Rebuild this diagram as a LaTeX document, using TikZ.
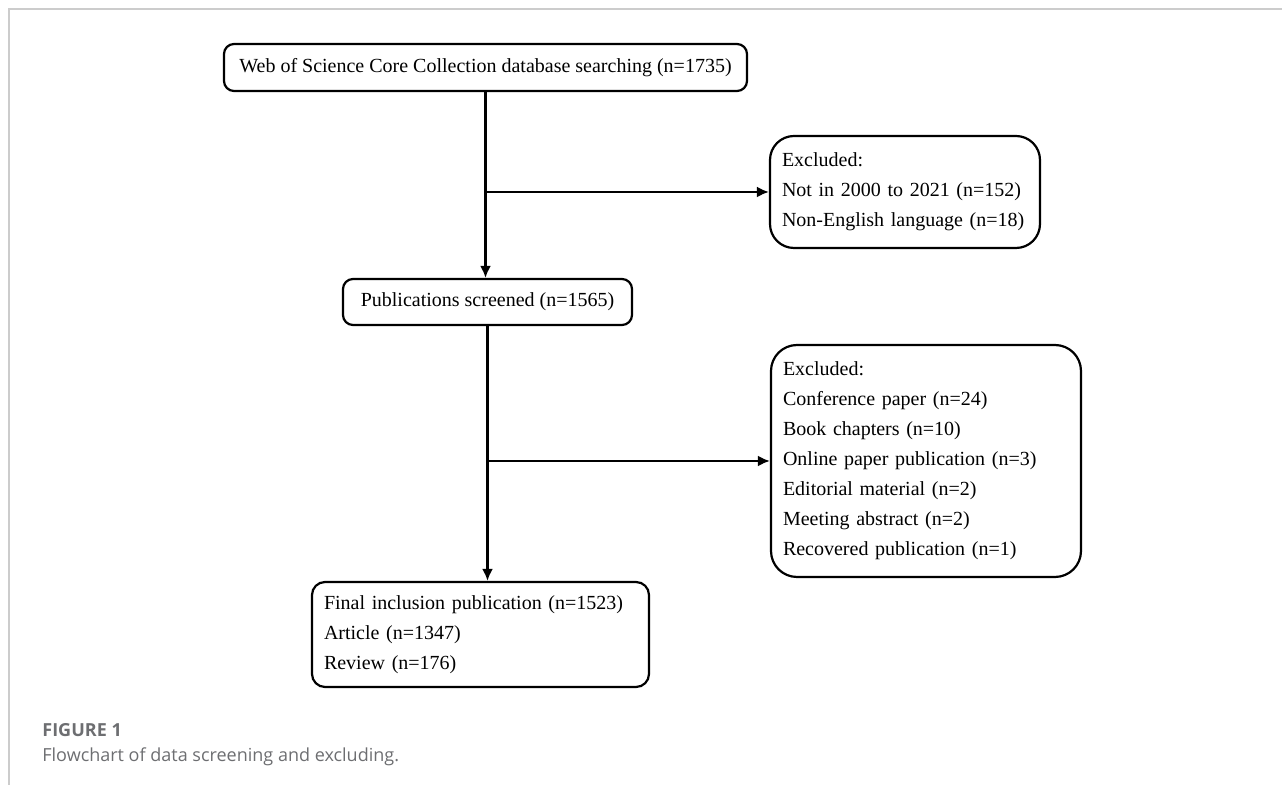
\documentclass[tikz,border=0pt]{standalone}
\usepackage{fontspec}
\setmainfont{Liberation Serif}
\newfontfamily\capfont{Open Sans}
\usepackage{tikz}
\usetikzlibrary{calc}
\usetikzlibrary{arrows.meta, positioning}
\definecolor{framegray}{HTML}{CCCCCC}
\definecolor{capgray}{HTML}{6D6E71}
\tikzset{flowbox/.style={draw=black, line width=1.1pt, rounded corners=#1, inner xsep=6pt, inner ysep=0pt, align=left, font=\fontsize{10}{15}\selectfont},
flowbox/.default={5pt},
flowarrow/.style={line width=1.1pt, -{Latex[length=6pt,width=5.5pt]}}}

\begin{document}
\begin{tikzpicture}[x=0.5pt, y=-0.5pt]
 \useasboundingbox (0,0) rectangle (1282,785);
 %Drawing Frame lines
 \draw[framegray, line width=0.6pt] (9,785) -- (9,9) -- (1282,9);

 %Drawing Main boxes
 \node (search) [flowbox, minimum width=261.5pt, minimum height=23.5pt] at (485.5,67.5) {Web of Science Core Collection database searching (n=1735)};
 \node (screened) [flowbox, minimum width=144.5pt, minimum height=23pt] at (487.5,302) {Publications screened (n=1565)};
 \node (final) [flowbox=6.5pt, text width=156.5pt, minimum height=52.5pt] at (480.5,634.5) {Final inclusion publication (n=1523)\\ Article (n=1347)\\ Review (n=176)};

 %Drawing Excluded boxes
 \node (excl1) [flowbox=12pt, text width=123pt, minimum height=56pt] at (905,192) {Excluded:\\ Not in 2000 to 2021 (n=152)\\ Non-English language (n=18)};
 \node (excl2) [flowbox=13pt, text width=143pt, minimum height=116pt] at (926,461) {Excluded:\\ Conference paper (n=24)\\ Book chapters (n=10)\\ Online paper publication (n=3)\\ Editorial material (n=2)\\ Meeting abstract (n=2)\\ Recovered publication (n=1)};

 %Drawing Arrows
 \draw[flowarrow] (search.south) -- (search.south |- screened.north);
 \draw[flowarrow] (screened.south) -- (screened.south |- final.north);
 \coordinate (branch1) at (search.south |- excl1.west);
 \coordinate (branch2) at (screened.south |- excl2.west);
 \draw[flowarrow] (branch1) -- (excl1.west);
 \draw[flowarrow] (branch2) -- (excl2.west);

 %Drawing Caption
 \node (figlabel) [anchor=base west, inner sep=0pt, text=capgray, font=\capfont\bfseries\fontsize{9}{10}\selectfont] at (42,737) {FIGURE 1};
 \node (figcaption) [anchor=base west, inner sep=0pt, text=capgray, font=\capfont\fontsize{9}{10}\selectfont] at (42,762) {Flowchart of data screening and excluding.};
\end{tikzpicture}
\end{document}
